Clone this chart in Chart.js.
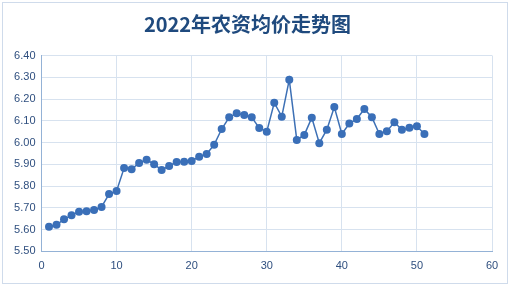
<!DOCTYPE html>
<html>
<head>
<meta charset="utf-8">
<script src="https://cdn.jsdelivr.net/npm/chart.js@4"></script>
<style>
html,body{margin:0;padding:0;background:#fff;width:512px;height:289px;overflow:hidden;}
#wrap{position:absolute;left:2px;top:2px;width:504px;height:280px;border:1px solid #cfdbeb;}
</style>
</head>
<body>
<div id="wrap"><canvas id="c"></canvas></div>
<script>
const weeks = [1,2,3,4,5,6,7,8,9,10,11,12,13,14,15,16,17,18,19,20,21,22,23,24,25,26,27,28,29,30,31,32,33,34,35,36,37,38,39,40,41,42,43,44,45,46,47,48,49,50,51];
const prices = [5.613,5.622,5.647,5.666,5.682,5.684,5.690,5.704,5.763,5.777,5.883,5.877,5.906,5.921,5.900,5.874,5.892,5.911,5.912,5.915,5.935,5.947,5.990,6.062,6.116,6.134,6.127,6.116,6.067,6.050,6.183,6.119,6.289,6.012,6.035,6.114,5.997,6.059,6.163,6.039,6.087,6.108,6.154,6.116,6.039,6.052,6.093,6.059,6.068,6.075,6.039];
const titleText = '2022年农资均价走势图';
const xTicks = [0,10,20,30,40,50,60];
const yTicks = [5.5,5.6,5.7,5.8,5.9,6.0,6.1,6.2,6.3,6.4];

const pts = weeks.map((w,i)=>({x:w,y:prices[i]}));
const tickColor = '#2f4f7f';
const fontFam = '"Liberation Sans", Arial, "Noto Sans CJK SC", sans-serif';

new Chart(document.getElementById('c'), {
  type: 'scatter',
  data: {
    datasets: [{
      data: pts,
      showLine: true,
      borderColor: '#3d70b5',
      backgroundColor: '#3a6fb8',
      borderWidth: 1.5,
      pointRadius: 4,
      pointHoverRadius: 4,
      pointBorderWidth: 0
    }]
  },
  options: {
    responsive: true,
    maintainAspectRatio: false,
    animation: false,
    layout: { padding: { left: 0, right: 15, top: 0, bottom: 0 } },
    plugins: {
      legend: { display: false },
      tooltip: { enabled: false },
      title: {
        display: true,
        text: titleText,
        color: '#1f4a7e',
        font: { family: '"Noto Sans CJK SC", "Liberation Sans", sans-serif', size: 20, weight: 'bold' },
        padding: { top: 9, bottom: 19.5 }
      }
    },
    scales: {
      x: {
        type: 'linear',
        min: 0, max: 60,
        afterBuildTicks: s => { s.ticks = xTicks.map(v => ({value: v})); },
        afterFit: s => { s.height = 31.7; },
        ticks: { color: tickColor, font: { family: fontFam, size: 11 }, padding: 8, maxRotation: 0 },
        grid: { color: '#d7e2ef', drawTicks: false, lineWidth: 1 },
        border: { color: '#94b2d6', width: 1 }
      },
      y: {
        min: 5.5, max: 6.4,
        afterBuildTicks: s => { s.ticks = yTicks.map(v => ({value: v})); },
        afterFit: s => { s.width = 38.5; },
        ticks: { color: tickColor, font: { family: fontFam, size: 11 }, padding: 6, callback: v => Number(v).toFixed(2) },
        grid: { color: '#d7e2ef', drawTicks: false, lineWidth: 1 },
        border: { color: '#94b2d6', width: 1 }
      }
    }
  }
});
</script>
</body>
</html>
